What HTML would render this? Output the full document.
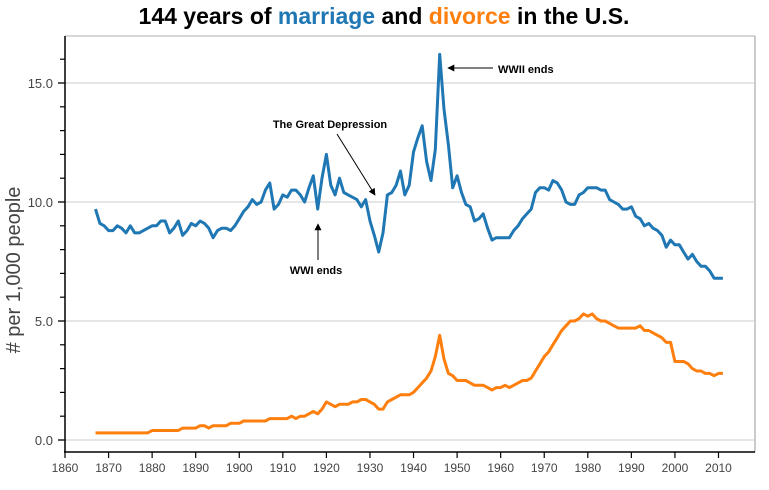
<!DOCTYPE html>
<html><head><meta charset="utf-8"><style>
body{margin:0;background:#fff;width:769px;height:485px;overflow:hidden;font-family:"Liberation Sans",Arial,sans-serif}
</style></head><body>
<svg id="chart" width="769" height="485" xmlns="http://www.w3.org/2000/svg" font-family="Liberation Sans, Arial, sans-serif">
<defs><marker id="ah" viewBox="0 0 10 10" refX="9" refY="5" markerWidth="7" markerHeight="7" orient="auto"><path d="M0,0L10,5L0,10z" fill="#000"/></marker></defs>
<text x="384" y="24" text-anchor="middle" font-size="23" font-weight="bold" fill="#000">144 years of <tspan fill="#1f77b4">marriage</tspan> and <tspan fill="#ff7f0e">divorce</tspan> in the U.S.</text>
<line x1="65" y1="36" x2="755" y2="36" stroke="#ccc" stroke-width="1.5"/>
<line x1="755" y1="36" x2="755" y2="452" stroke="#aaa" stroke-width="1.2"/>
<g id="grid"></g><g id="axes"></g><g id="series"></g>
<text transform="translate(20,270) rotate(-90)" text-anchor="middle" font-size="20" fill="#444"># per 1,000 people</text>
<g>
<text x="330" y="128" text-anchor="middle" font-size="11" font-weight="bold">The Great Depression</text>
<line x1="337" y1="134" x2="375" y2="195" stroke="#000" stroke-width="1" marker-end="url(#ah)"/></g>
<g>
<text x="316" y="274" text-anchor="middle" font-size="11" font-weight="bold">WWI ends</text>
<line x1="318" y1="260" x2="318" y2="224" stroke="#000" stroke-width="1" marker-end="url(#ah)"/></g>
<g>
<text x="498" y="73" font-size="11" font-weight="bold">WWII ends</text>
<line x1="493" y1="68" x2="448" y2="68" stroke="#000" stroke-width="1" marker-end="url(#ah)"/></g>
</svg>
<script>
const startYear = 1867;
const marriage = [9.7,9.1,9.0,8.8,8.8,9.0,8.9,8.7,9.0,8.7,8.7,8.8,8.9,9.0,9.0,9.2,9.2,8.7,8.9,9.2,8.6,8.8,9.1,9.0,9.2,9.1,8.9,8.5,8.8,8.9,8.9,8.8,9.0,9.3,9.6,9.8,10.1,9.9,10.0,10.5,10.8,9.7,9.9,10.3,10.2,10.5,10.5,10.3,10.0,10.6,11.1,9.7,11.0,12.0,10.7,10.3,11.0,10.4,10.3,10.2,10.1,9.8,10.1,9.2,8.6,7.9,8.7,10.3,10.4,10.7,11.3,10.3,10.7,12.1,12.7,13.2,11.7,10.9,12.2,16.2,13.9,12.4,10.6,11.1,10.4,9.9,9.8,9.2,9.3,9.5,8.9,8.4,8.5,8.5,8.5,8.5,8.8,9.0,9.3,9.5,9.7,10.4,10.6,10.6,10.5,10.9,10.8,10.5,10.0,9.9,9.9,10.3,10.4,10.6,10.6,10.6,10.5,10.5,10.1,10.0,9.9,9.7,9.7,9.8,9.4,9.3,9.0,9.1,8.9,8.8,8.6,8.1,8.4,8.2,8.2,7.9,7.6,7.8,7.5,7.3,7.3,7.1,6.8,6.8,6.8];
const divorce = [0.3,0.3,0.3,0.3,0.3,0.3,0.3,0.3,0.3,0.3,0.3,0.3,0.3,0.4,0.4,0.4,0.4,0.4,0.4,0.4,0.5,0.5,0.5,0.5,0.6,0.6,0.5,0.6,0.6,0.6,0.6,0.7,0.7,0.7,0.8,0.8,0.8,0.8,0.8,0.8,0.9,0.9,0.9,0.9,0.9,1.0,0.9,1.0,1.0,1.1,1.2,1.1,1.3,1.6,1.5,1.4,1.5,1.5,1.5,1.6,1.6,1.7,1.7,1.6,1.5,1.3,1.3,1.6,1.7,1.8,1.9,1.9,1.9,2.0,2.2,2.4,2.6,2.9,3.5,4.4,3.4,2.8,2.7,2.5,2.5,2.5,2.4,2.3,2.3,2.3,2.2,2.1,2.2,2.2,2.3,2.2,2.3,2.4,2.5,2.5,2.6,2.9,3.2,3.5,3.7,4.0,4.3,4.6,4.8,5.0,5.0,5.1,5.3,5.2,5.3,5.1,5.0,5.0,4.9,4.8,4.7,4.7,4.7,4.7,4.7,4.8,4.6,4.6,4.5,4.4,4.3,4.1,4.1,3.3,3.3,3.3,3.2,3.0,2.9,2.9,2.8,2.8,2.7,2.8,2.8];
const xTicks = [1860,1870,1880,1890,1900,1910,1920,1930,1940,1950,1960,1970,1980,1990,2000,2010];
const yTicks = [0,5,10,15];
const yMinor = [1,2,3,4,6,7,8,9,11,12,13,14,16];

const NS = "http://www.w3.org/2000/svg";
const xs = y => 65 + (y - 1860) * (718.5 - 65) / 150;
const ys = v => 440 - v * 23.8;
function mk(tag, attrs, parent){const e=document.createElementNS(NS,tag);for(const k in attrs)e.setAttribute(k,attrs[k]);parent.appendChild(e);return e;}
const grid=document.getElementById('grid'), axes=document.getElementById('axes'), series=document.getElementById('series');
yTicks.forEach(v=>{
  const g=mk('line',{x1:65,x2:755,y1:ys(v),y2:ys(v),stroke:'#ccc','stroke-width':1},grid);
  
  
  mk('line',{x1:58,x2:65,y1:ys(v),y2:ys(v),stroke:'#000','stroke-width':1.3},axes);
  const t=mk('text',{x:53,y:ys(v)+5,'text-anchor':'end','font-size':13,fill:'#444'},axes);
  t.textContent=v.toFixed(1);
  
  
});
yMinor.forEach(v=>mk('line',{x1:60,x2:65,y1:ys(v),y2:ys(v),stroke:'#000','stroke-width':1.2},axes));
const ya=mk('line',{x1:65,x2:65,y1:36,y2:452,stroke:'#000','stroke-width':1.5},axes);


const xa=mk('line',{x1:64,x2:755,y1:452,y2:452,stroke:'#000','stroke-width':1.5},axes);


xTicks.forEach(yr=>{
  mk('line',{x1:xs(yr),x2:xs(yr),y1:452,y2:458,stroke:'#000','stroke-width':1.2},axes);
  const t=mk('text',{x:xs(yr),y:472,'text-anchor':'middle','font-size':12,fill:'#444'},axes);
  t.textContent=yr;
  
  
});
function line(vals,color,name){
  const d=vals.map((v,i)=>(i?'L':'M')+xs(startYear+i).toFixed(1)+','+ys(v).toFixed(1)).join('');
  const p=mk('path',{d:d,fill:'none',stroke:color,'stroke-width':3,'stroke-linejoin':'round'},series);
  
  
}
line(divorce,'#ff7f0e','divorce-line');
line(marriage,'#1f77b4','marriage-line');
</script>
</body></html>
